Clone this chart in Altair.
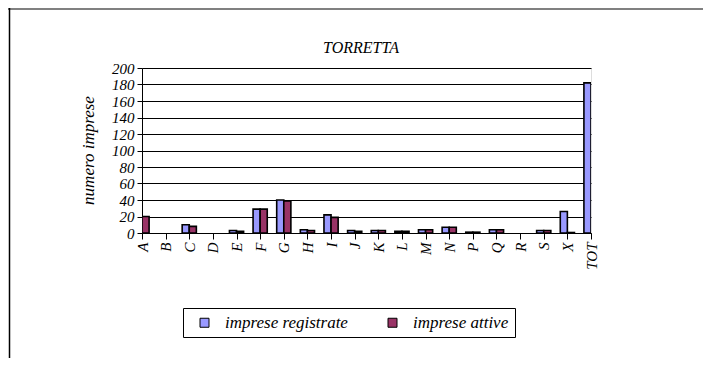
import altair as alt
import pandas as pd

chart_title = "TORRETTA"
categories = ["A", "B", "C", "D", "E", "F", "G", "H", "I", "J", "K", "L", "M", "N", "P", "Q", "R", "S", "X", "TOT"]
registrate = [0, 0, 10, 0, 3, 29, 40, 4, 22, 3, 3, 2, 4, 7, 1, 4, 0, 3, 26, 182]
attive = [20, 0, 8, 0, 2, 29, 39, 3, 19, 2, 3, 2, 4, 7, 1, 4, 0, 3, 0.6, 0]
series_names = ["imprese registrate", "imprese attive"]
series_colors = ["#9999FF", "#993366"]
y_ticks = list(range(0, 201, 20))

rows = []
for i, c in enumerate(categories):
    rows.append({"idx": i, "cat": c, "series": series_names[0], "value": registrate[i]})
    rows.append({"idx": i, "cat": c, "series": series_names[1], "value": attive[i]})
df = pd.DataFrame(rows)

FONT = "Liberation Serif, Times New Roman, serif"
label_js = "[" + ",".join("'" + c + "'" for c in categories) + "]"

bars = alt.Chart(df).transform_filter("datum.value > 0").transform_calculate(
    x0=f"datum.idx + (datum.series == '{series_names[0]}' ? -0.3 : 0)",
    x1=f"datum.idx + (datum.series == '{series_names[0]}' ? 0 : 0.3)",
).mark_bar(stroke="black", strokeWidth=1.6, clip=True).encode(
    x=alt.X("x0:Q", scale=alt.Scale(domain=[0, len(categories) - 1], nice=False, zero=False),
            axis=alt.Axis(values=list(range(len(categories))), labelExpr=f"{label_js}[datum.value]",
                          title=None, grid=False, labelAngle=270, labelAlign="right", labelBaseline="middle",
                          labelFont=FONT, labelFontStyle="italic", labelFontSize=15, labelColor="black",
                          tickColor="black", tickSize=6, domainColor="black", labelPadding=3)),
    x2="x1:Q",
    y=alt.Y("value:Q", scale=alt.Scale(domain=[0, 200], nice=False),
            axis=alt.Axis(values=y_ticks, title="numero imprese", grid=True, gridColor="black",
                          gridOpacity=1, gridWidth=1, labelFont=FONT, labelFontStyle="italic",
                          labelFontSize=15, labelColor="black", tickColor="black", tickSize=5,
                          domainColor="black", labelPadding=3, titleFont=FONT, titleFontStyle="italic",
                          titleFontWeight="normal", titleFontSize=17, titleColor="black",
                          titleX=-54, titleY=82, titleAngle=270, titleAlign="center",
                          titleBaseline="middle")),
    y2=alt.datum(0),
    color=alt.Color("series:N", scale=alt.Scale(domain=series_names, range=series_colors),
                    legend=alt.Legend(title=None, orient="none", legendX=41, legendY=240,
                                      direction="horizontal", symbolType="square", symbolSize=81,
                                      symbolStrokeColor="black", symbolStrokeWidth=1,
                                      labelFont=FONT, labelFontStyle="italic", labelFontSize=17,
                                      labelColor="black", strokeColor="black", padding=6,
                                      columnPadding=29, labelOffset=12, symbolOffset=7)),
)

title_text = alt.Chart(alt.Data(values=[{"t": chart_title}])).mark_text(
    font=FONT, fontStyle="italic", fontSize=16, color="black", align="center", baseline="alphabetic"
).encode(text="t:N", x=alt.value(219), y=alt.value(-15))

frame = alt.Chart(alt.Data(values=[{"k": 1}])).mark_rule(color="#808080", strokeWidth=2).encode(
    x=alt.value(-134), x2=alt.value(561), y=alt.value(-59)
)
frame_left = alt.Chart(alt.Data(values=[{"k": 1}])).mark_rule(color="black", strokeWidth=1.5).encode(
    x=alt.value(-132.5), y=alt.value(-60), y2=alt.value(290)
)

chart = alt.layer(bars, title_text, frame, frame_left).properties(
    width=449, height=165,
    autosize=alt.AutoSizeParams(type="none"),
    padding={"left": 134, "top": 60, "right": 112, "bottom": 125},
).configure_view(stroke="#808080", strokeWidth=1.5).configure(background="white")

chart.save("out.html", embed_options={"renderer": "svg", "actions": False})
